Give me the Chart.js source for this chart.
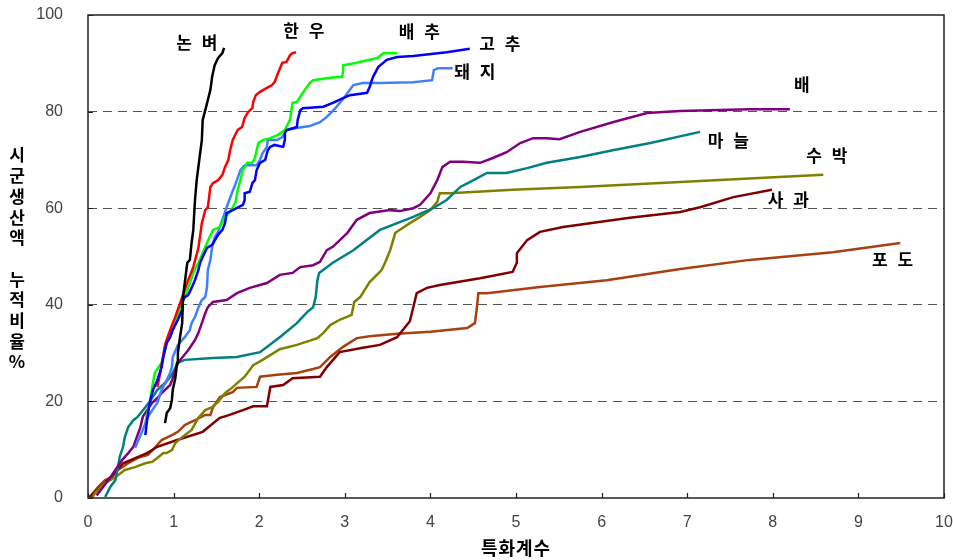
<!DOCTYPE html>
<html>
<head>
<meta charset="utf-8">
<script src="https://cdn.jsdelivr.net/npm/chart.js@4"></script>
<style>
  body { margin: 0; background: #fff; }
  #wrap { width: 953px; height: 560px; }
</style>
</head>
<body>
<div id="wrap"><canvas id="chart" width="953" height="560"></canvas></div>
<script>
// x = 특화계수, y = 시군생산액 누적비율(%)
const xTicks = [0, 1, 2, 3, 4, 5, 6, 7, 8, 9, 10];
const yTicks = [0, 20, 40, 60, 80, 100];

const nonbyeo = [[0.90,15.5],[0.92,17.6],[0.96,18.6],[0.98,20.3],[0.99,22.4],[1.02,24.8],[1.04,28.0],[1.05,30.0],[1.07,32.7],[1.10,36.2],[1.11,41.6],[1.13,44.5],[1.16,48.7],[1.19,49.3],[1.21,52.8],[1.23,55.5],[1.25,61.7],[1.27,65.8],[1.30,70.0],[1.33,74.1],[1.34,78.3],[1.37,80.3],[1.40,82.4],[1.43,84.5],[1.45,87.2],[1.48,89.6],[1.52,91.1],[1.57,92.1],[1.59,93.2]];

const hanwoo = [[0.81,23.0],[0.84,25.5],[0.90,31.7],[0.96,34.8],[1.02,37.5],[1.10,41.6],[1.17,45.1],[1.23,47.8],[1.29,51.8],[1.33,56.9],[1.37,59.6],[1.40,60.2],[1.43,64.4],[1.46,65.2],[1.52,65.8],[1.57,66.9],[1.60,68.5],[1.64,70.0],[1.66,72.0],[1.69,74.1],[1.72,75.2],[1.75,76.2],[1.80,76.8],[1.83,78.7],[1.87,79.9],[1.92,80.7],[1.93,82.0],[1.96,83.4],[2.01,84.1],[2.09,84.9],[2.15,85.5],[2.18,86.1],[2.22,88.0],[2.27,90.1],[2.32,90.3],[2.36,91.7],[2.39,92.1],[2.43,92.3]];

const baechu = [[0.67,15.7],[0.72,19.7],[0.75,23.0],[0.78,25.9],[0.86,28.0],[0.90,30.6],[0.93,33.3],[0.98,34.8],[1.02,36.2],[1.07,38.9],[1.13,41.6],[1.19,44.5],[1.23,46.6],[1.29,48.7],[1.34,50.7],[1.40,53.2],[1.46,55.5],[1.54,56.1],[1.60,58.2],[1.66,59.2],[1.72,61.1],[1.75,63.8],[1.78,65.8],[1.81,67.9],[1.86,69.4],[1.92,69.4],[1.95,70.4],[1.97,72.0],[1.99,73.5],[2.04,74.1],[2.13,74.5],[2.22,75.2],[2.30,76.2],[2.36,78.3],[2.39,81.8],[2.44,82.0],[2.51,83.9],[2.59,85.9],[2.63,86.5],[2.83,87.0],[2.97,87.2],[2.98,88.6],[2.98,89.6],[3.14,90.1],[3.38,91.1],[3.45,92.1],[3.61,92.1]];

const gochu = [[0.67,13.0],[0.69,16.1],[0.72,19.7],[0.76,22.4],[0.81,24.4],[0.86,27.1],[0.88,29.2],[0.92,32.1],[0.96,33.3],[0.99,34.8],[1.05,36.9],[1.10,38.9],[1.10,40.6],[1.13,41.6],[1.17,42.0],[1.21,43.5],[1.25,45.1],[1.29,47.2],[1.31,48.7],[1.34,49.9],[1.39,51.8],[1.45,52.4],[1.52,54.5],[1.57,55.5],[1.60,56.9],[1.62,59.0],[1.69,59.6],[1.81,60.7],[1.83,61.7],[1.83,63.1],[1.89,63.4],[1.92,65.2],[1.95,65.8],[1.97,67.9],[2.01,69.4],[2.07,70.0],[2.10,72.0],[2.13,72.7],[2.18,73.1],[2.28,72.7],[2.30,74.1],[2.30,75.6],[2.32,76.2],[2.44,76.8],[2.45,78.3],[2.48,80.3],[2.51,80.7],[2.75,81.0],[2.86,81.8],[2.98,82.8],[3.06,83.4],[3.26,83.9],[3.29,85.1],[3.33,87.2],[3.39,89.2],[3.49,90.7],[3.61,91.3],[3.80,91.5],[4.19,92.3],[4.46,93.0]];

const dwaeji = [[0.55,10.4],[0.64,14.1],[0.70,16.8],[0.75,18.2],[0.81,19.7],[0.86,22.4],[0.92,24.4],[0.96,25.9],[0.98,27.1],[0.99,29.2],[1.05,31.7],[1.13,33.3],[1.19,34.8],[1.21,36.2],[1.25,37.5],[1.29,39.5],[1.33,41.0],[1.37,41.6],[1.39,43.7],[1.40,47.2],[1.43,49.3],[1.45,52.0],[1.48,54.0],[1.52,55.1],[1.57,57.6],[1.62,60.2],[1.68,63.1],[1.74,65.8],[1.78,67.9],[1.83,68.9],[1.97,68.9],[2.01,70.0],[2.04,71.4],[2.09,72.7],[2.10,74.1],[2.21,74.1],[2.27,74.7],[2.32,76.2],[2.44,76.6],[2.59,77.0],[2.71,77.8],[2.79,78.9],[2.89,80.7],[2.98,82.6],[3.10,85.5],[3.21,85.9],[3.41,85.9],[3.80,86.1],[4.02,86.5],[4.04,88.6],[4.09,89.0],[4.26,89.0]];

const bae = [[0.10,0.5],[0.25,4.0],[0.40,7.9],[0.47,9.3],[0.53,10.6],[0.57,12.6],[0.61,14.5],[0.64,16.8],[0.69,18.2],[0.75,19.7],[0.81,20.7],[0.86,21.7],[0.96,23.4],[0.99,24.8],[1.05,28.0],[1.17,30.6],[1.25,32.7],[1.29,34.2],[1.33,36.2],[1.37,38.3],[1.40,39.5],[1.46,40.6],[1.62,41.0],[1.74,42.4],[1.89,43.5],[2.09,44.5],[2.24,46.2],[2.39,46.6],[2.48,47.8],[2.63,48.2],[2.71,48.9],[2.79,51.3],[2.86,52.0],[3.03,54.9],[3.14,57.6],[3.29,59.0],[3.53,59.6],[3.64,59.4],[3.80,60.0],[3.88,60.7],[4.00,63.1],[4.08,65.8],[4.14,68.5],[4.23,69.6],[4.38,69.6],[4.58,69.4],[4.73,70.4],[4.89,71.6],[5.05,73.5],[5.20,74.5],[5.36,74.5],[5.51,74.3],[5.75,75.8],[6.13,77.8],[6.53,79.7],[6.92,80.1],[7.73,80.5],[8.20,80.5]];

const maneul = [[0.20,0.2],[0.26,2.3],[0.32,3.7],[0.35,6.4],[0.37,8.5],[0.41,10.6],[0.43,12.6],[0.47,14.7],[0.53,16.1],[0.58,16.8],[0.67,18.8],[0.72,19.9],[0.81,22.4],[0.90,23.8],[0.98,25.5],[1.05,28.0],[1.13,28.6],[1.46,29.0],[1.74,29.2],[2.01,30.2],[2.24,33.3],[2.44,36.2],[2.56,38.5],[2.63,39.5],[2.66,41.6],[2.68,45.1],[2.70,46.6],[2.86,48.7],[3.10,51.3],[3.41,55.5],[3.80,58.2],[4.03,60.0],[4.19,61.7],[4.35,64.4],[4.46,65.4],[4.66,67.3],[4.89,67.3],[5.13,68.3],[5.36,69.4],[5.75,70.6],[6.13,72.0],[6.57,73.5],[7.15,75.8]];

const subak = [[0.05,0.0],[0.08,1.0],[0.20,3.1],[0.32,4.3],[0.43,5.8],[0.55,6.4],[0.67,7.2],[0.75,7.5],[0.81,8.3],[0.88,9.3],[0.92,9.3],[0.98,9.9],[1.02,11.4],[1.10,12.6],[1.21,14.1],[1.29,16.6],[1.37,18.2],[1.45,18.8],[1.52,19.9],[1.60,21.7],[1.68,22.8],[1.83,25.1],[1.93,27.5],[2.04,28.6],[2.24,30.8],[2.44,31.7],[2.68,33.1],[2.75,34.2],[2.83,35.8],[2.94,36.9],[3.08,37.9],[3.11,40.6],[3.18,41.6],[3.29,44.7],[3.43,47.2],[3.47,48.7],[3.53,51.3],[3.59,54.9],[3.64,55.5],[3.76,56.9],[3.88,58.2],[4.00,59.6],[4.08,61.3],[4.11,63.1],[4.23,63.1],[4.96,63.8],[5.75,64.4],[6.92,65.4],[8.59,66.9]];

const sagwa = [[0.02,0.2],[0.16,2.5],[0.28,4.6],[0.41,7.2],[0.69,9.3],[0.81,10.6],[1.04,12.0],[1.34,13.7],[1.54,16.6],[1.62,17.0],[1.81,18.2],[1.93,19.0],[2.09,19.0],[2.13,23.0],[2.28,23.4],[2.39,24.8],[2.71,25.1],[2.79,27.1],[2.94,30.2],[3.21,31.1],[3.41,31.7],[3.61,33.3],[3.76,36.6],[3.80,39.5],[3.84,42.4],[3.96,43.5],[4.11,44.1],[4.58,45.5],[4.96,46.8],[5.01,48.7],[5.01,50.7],[5.13,53.4],[5.28,55.1],[5.55,56.1],[5.95,57.1],[6.33,58.0],[6.92,59.2],[7.15,60.2],[7.54,62.3],[7.99,63.8]];

const podo = [[0.02,0.2],[0.12,2.3],[0.20,3.7],[0.28,4.3],[0.35,5.8],[0.47,7.2],[0.58,8.3],[0.70,8.9],[0.78,10.4],[0.86,12.0],[0.98,13.0],[1.05,13.7],[1.13,15.1],[1.25,16.1],[1.37,17.2],[1.43,17.2],[1.46,18.8],[1.54,20.9],[1.69,21.9],[1.74,22.8],[1.97,23.0],[2.01,25.1],[2.21,25.5],[2.44,25.9],[2.63,26.7],[2.71,27.1],[2.83,29.2],[2.98,31.3],[3.14,33.1],[3.29,33.5],[3.61,34.0],[4.00,34.4],[4.43,35.2],[4.52,36.2],[4.54,38.9],[4.56,42.4],[4.66,42.4],[5.28,43.7],[6.06,45.1],[6.92,47.4],[7.73,49.3],[8.70,50.9],[9.49,52.8]];

// series name, data, colour, where its name is written (data units)
const seriesNames = ['논 벼', '고 추', '한 우', '배 추', '돼 지', '배', '마 늘', '수 박', '사 과', '포 도'];
const seriesData = [nonbyeo, gochu, hanwoo, baechu, dwaeji, bae, maneul, subak, sagwa, podo];
const seriesColors = ['#000000', '#0000ff', '#ff0000', '#00ff00', '#4080ff', '#800080', '#008080', '#808000', '#800000', '#a84010'];
const labelAt = [[1.27,94.4],[4.81,94.0],[2.52,96.7],[3.87,96.5],[4.52,88.2],[8.34,85.5],[7.48,74.1],[8.63,71.0],[8.18,61.7],[9.40,49.3]];

const yTitle = '시군생산액 누적비율%';
const xTitle = '특화계수';

const datasets = seriesNames.map((name, i) => ({
  label: name,
  data: seriesData[i].map(([x, y]) => ({ x, y })),
  borderColor: seriesColors[i],
  backgroundColor: seriesColors[i],
  borderWidth: 2.5,
  pointRadius: 0,
  showLine: true,
  tension: 0
}));

const decor = {
  id: 'decor',
  afterDatasetsDraw(chart) {
    const { ctx, chartArea: a, scales: { x, y } } = chart;
    ctx.save();
    // frame
    ctx.strokeStyle = '#222';
    ctx.lineWidth = 1.5;
    ctx.strokeRect(a.left, a.top, a.right - a.left, a.bottom - a.top);
    // inward tick marks
    ctx.lineWidth = 1.2;
    ctx.beginPath();
    xTicks.forEach(v => {
      const px = Math.round(x.getPixelForValue(v)) + 0.5;
      ctx.moveTo(px, a.bottom);
      ctx.lineTo(px, a.bottom - 5);
    });
    yTicks.forEach(v => {
      const py = Math.round(y.getPixelForValue(v)) + 0.5;
      ctx.moveTo(a.left, py);
      ctx.lineTo(a.left + 5, py);
    });
    ctx.stroke();

    // series names
    ctx.fillStyle = '#000';
    ctx.font = 'bold 17px "Noto Sans CJK KR"';
    ctx.textAlign = 'center';
    ctx.textBaseline = 'middle';
    ctx.letterSpacing = '3px';
    seriesNames.forEach((name, i) => {
      const [lx, ly] = labelAt[i];
      ctx.fillText(name, x.getPixelForValue(lx) + 1.5, y.getPixelForValue(ly));
    });
    ctx.letterSpacing = '0px';

    // vertical y title, one upright character per line
    let ty = 155;
    for (const ch of yTitle) {
      if (ch !== ' ') ctx.fillText(ch, 17, ty);
      ty += 20.7;
    }

    // x title
    ctx.font = 'bold 18px "Noto Sans CJK KR"';
    ctx.letterSpacing = '1px';
    ctx.fillText(xTitle, (a.left + a.right) / 2, 548);
    ctx.restore();
  }
};

new Chart(document.getElementById('chart'), {
  type: 'scatter',
  data: { datasets },
  plugins: [decor],
  options: {
    responsive: false,
    animation: false,
    devicePixelRatio: 1,
    layout: { padding: { left: 0, right: 9, top: 15, bottom: 0 } },
    plugins: { legend: { display: false }, tooltip: { enabled: false } },
    scales: {
      x: {
        type: 'linear',
        min: 0,
        max: 10,
        afterFit: s => { s.height = 62; s.paddingLeft = 0; s.paddingRight = 0; },
        afterBuildTicks: s => { s.ticks = xTicks.map(v => ({ value: v })); },
        grid: { display: false, drawTicks: false },
        border: { display: false },
        ticks: {
          padding: 15,
          color: '#444',
          font: { family: 'Liberation Sans', size: 16 },
          maxRotation: 0
        }
      },
      y: {
        type: 'linear',
        min: 0,
        max: 100,
        afterFit: s => { s.width = 88; s.paddingTop = 0; s.paddingBottom = 0; },
        afterBuildTicks: s => { s.ticks = yTicks.map(v => ({ value: v })); },
        grid: {
          drawTicks: false,
          lineWidth: 1,
          color: c => (c.tick && c.tick.value > 0 && c.tick.value < 100) ? '#555' : 'rgba(0,0,0,0)'
        },
        border: { display: false, dash: [9, 6] },
        ticks: {
          padding: 25,
          color: '#444',
          font: { family: 'Liberation Sans', size: 16 }
        }
      }
    }
  }
});
</script>
</body>
</html>
